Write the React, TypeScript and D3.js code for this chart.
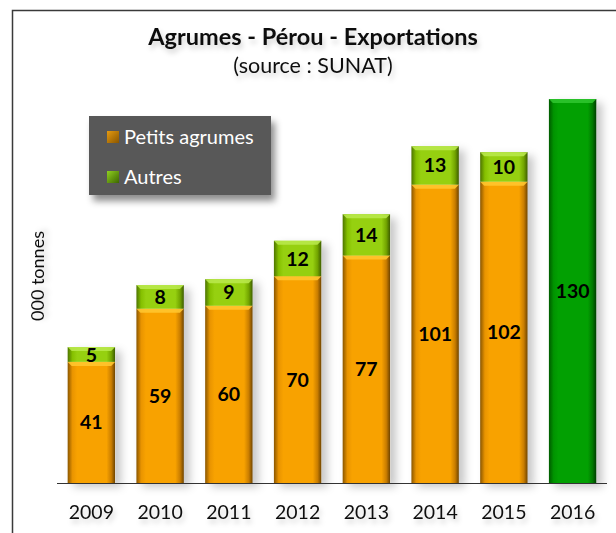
import React from 'react';
import * as d3 from 'd3';

const years = ['2009', '2010', '2011', '2012', '2013', '2014', '2015', '2016'];
const petitsAgrumes = [41, 59, 60, 70, 77, 101, 102, null];
const autres = [5, 8, 9, 12, 14, 13, 10, null];
const total2016 = [null, null, null, null, null, null, null, 130];

const legendLabels = ['Petits agrumes', 'Autres'];

const W = 616;
const H = 533;
const baseY = 483;
const font = 'Lato, "Open Sans", sans-serif';

type Seg = { key: string; x: number; w: number; y0: number; y1: number; value: number; grad: string; top: string };

const App: React.FC = () => {
  const x = d3.scaleBand<string>().domain(years).range([57, 607]).paddingInner(0.31).paddingOuter(0.155);
  const y = d3.scaleLinear().domain([0, 130]).range([baseY, 99]);

  // Build the stacked segments
  const segs: Seg[] = [];
  years.forEach((yr, i) => {
    const xs = x(yr) as number;
    const w = x.bandwidth();
    const p = petitsAgrumes[i];
    const a = autres[i];
    const t = total2016[i];
    if (p != null) {
      segs.push({ key: yr + 'p', x: xs, w, y0: y(0), y1: y(p), value: p, grad: 'gOrange', top: '#ffc52e' });
      if (a != null) {
        segs.push({ key: yr + 'a', x: xs, w, y0: y(p), y1: y(p + a), value: a, grad: 'gLime', top: '#b8e84a' });
      }
    }
    if (t != null) {
      segs.push({ key: yr + 't', x: xs, w, y0: y(0), y1: y(t), value: t, grad: 'gGreen', top: '#2ec42e' });
    }
  });

  const b = 4;

  return (
    <svg width={W} height={H} style={{ position: 'absolute', left: 0, top: 0, background: '#fff' }}>
      <defs>
        <linearGradient id="gOrange" x1="0" x2="1" y1="0" y2="0">
          <stop offset="0" stopColor="#8a5600" />
          <stop offset="0.1" stopColor="#e99400" />
          <stop offset="0.2" stopColor="#f8a200" />
          <stop offset="0.82" stopColor="#f8a200" />
          <stop offset="0.92" stopColor="#c97d00" />
          <stop offset="1" stopColor="#6e4400" />
        </linearGradient>
        <linearGradient id="gLime" x1="0" x2="1" y1="0" y2="0">
          <stop offset="0" stopColor="#4d7400" />
          <stop offset="0.1" stopColor="#85c000" />
          <stop offset="0.2" stopColor="#96d010" />
          <stop offset="0.82" stopColor="#96d010" />
          <stop offset="0.92" stopColor="#72a400" />
          <stop offset="1" stopColor="#3d5c00" />
        </linearGradient>
        <linearGradient id="gGreen" x1="0" x2="1" y1="0" y2="0">
          <stop offset="0" stopColor="#005a00" />
          <stop offset="0.1" stopColor="#009400" />
          <stop offset="0.2" stopColor="#02a002" />
          <stop offset="0.82" stopColor="#02a002" />
          <stop offset="0.92" stopColor="#007800" />
          <stop offset="1" stopColor="#003c00" />
        </linearGradient>
        <linearGradient id="gLegO" x1="0" x2="1" y1="0" y2="1">
          <stop offset="0" stopColor="#e59a10" />
          <stop offset="1" stopColor="#8a5600" />
        </linearGradient>
        <linearGradient id="gLegG" x1="0" x2="1" y1="0" y2="1">
          <stop offset="0" stopColor="#8fd020" />
          <stop offset="1" stopColor="#3d6600" />
        </linearGradient>
        <filter id="barShadow" x="-30%" y="-10%" width="170%" height="130%">
          <feDropShadow dx="6" dy="4" stdDeviation="4" floodColor="#000" floodOpacity="0.22" />
        </filter>
        <filter id="boxShadow" x="-20%" y="-20%" width="150%" height="160%">
          <feDropShadow dx="4" dy="6" stdDeviation="3.5" floodColor="#000" floodOpacity="0.45" />
        </filter>
        <filter id="textShadow" x="-10%" y="-40%" width="120%" height="200%">
          <feDropShadow dx="2" dy="4" stdDeviation="2.5" floodColor="#000" floodOpacity="0.18" />
        </filter>
      </defs>

      {/* frame */}
      <path d={`M12.5,${H} V10.5 H${W}`} fill="none" stroke="#3a3a3a" strokeWidth={1.5} />

      {/* title */}
      <g filter="url(#textShadow)" fontFamily={font} textAnchor="middle" fill="#111">
        <text x={313} y={45} fontSize={23.5} fontWeight="bold">
          Agrumes - Pérou - Exportations
        </text>
        <text x={313} y={73} fontSize={21.5}>
          (source : SUNAT)
        </text>
      </g>

      {/* y label */}
      <text
        transform="translate(44,276) rotate(-90)"
        textAnchor="middle"
        fontFamily={font}
        fontSize={18}
        fill="#111"
        filter="url(#textShadow)"
      >
        000 tonnes
      </text>

      {/* bars */}
      <g>
        {years.map((yr, i) => {
          const tot = (petitsAgrumes[i] ?? 0) + (autres[i] ?? 0) + (total2016[i] ?? 0);
          return (
            <rect
              key={'sh' + yr}
              x={x(yr)}
              y={y(tot)}
              width={x.bandwidth()}
              height={y(0) - y(tot)}
              fill="#fff"
              filter="url(#barShadow)"
            />
          );
        })}
        {segs.map((s) => (
          <g key={s.key}>
            <rect x={s.x} y={s.y1} width={s.w} height={s.y0 - s.y1} fill={`url(#${s.grad})`} />
            <polygon
              points={`${s.x},${s.y1} ${s.x + s.w},${s.y1} ${s.x + s.w - b},${s.y1 + b} ${s.x + b},${s.y1 + b}`}
              fill={s.top}
              opacity={0.9}
            />
          </g>
        ))}
      </g>

      {/* value labels */}
      <g fontFamily={font} fontWeight="bold" fontSize={19.5} textAnchor="middle" fill="#000">
        {segs.map((s) => (
          <text key={'l' + s.key} x={s.x + s.w / 2} y={(s.y0 + s.y1) / 2} dy="0.36em">
            {s.value}
          </text>
        ))}
      </g>

      {/* x axis */}
      <line x1={57} x2={607} y1={baseY + 0.5} y2={baseY + 0.5} stroke="#333" strokeWidth={1} />
      <g fontFamily={font} fontSize={19.5} textAnchor="middle" fill="#111" filter="url(#textShadow)">
        {years.map((yr) => (
          <text key={'t' + yr} x={(x(yr) as number) + x.bandwidth() / 2} y={519}>
            {yr}
          </text>
        ))}
      </g>

      {/* legend */}
      <g>
        <rect x={89} y={116} width={182} height={79} fill="#595959" filter="url(#boxShadow)" />
        {legendLabels.map((lab, i) => (
          <g key={lab} transform={`translate(107,${137 + i * 40})`}>
            <rect x={0} y={-6} width={12} height={12} fill={i === 0 ? 'url(#gLegO)' : 'url(#gLegG)'} />
            <text x={17} y={0} dy="0.35em" fontFamily={font} fontSize={20} fill="#fff">
              {lab}
            </text>
          </g>
        ))}
      </g>
    </svg>
  );
};

export default App;
